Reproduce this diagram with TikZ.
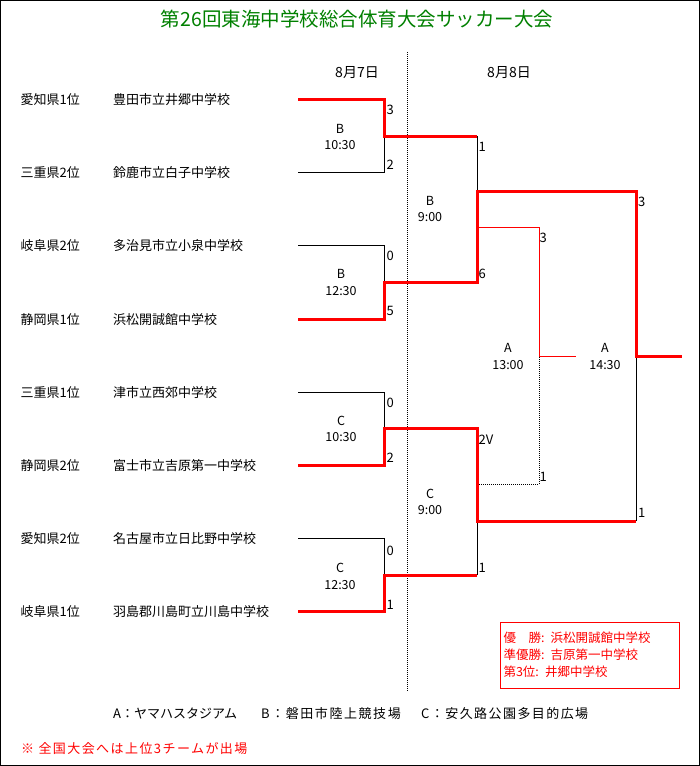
\documentclass[tikz,border=0pt]{standalone}
\usepackage{fontspec}
\setmainfont{Noto Sans CJK JP}
\usepackage{tikz}
\definecolor{titlegreen}{RGB}{0,128,0}
\tikzstyle{winline}=[
      red,
      line width = 3pt
      ]
\tikzstyle{plainline}=[
      black,
      line width = 1pt
      ]
\tikzstyle{thirdline}=[
      red,
      line width = 1pt
      ]
\tikzstyle{dotline}=[
      black,
      line width = 1pt,
      dash pattern = on 1pt off 1pt
      ]
\tikzstyle{teamtext}=[
      anchor = west,
      inner sep = 0pt,
      font = \fontsize{13}{15}\selectfont
      ]
\tikzstyle{scoretext}=[
      anchor = west,
      inner sep = 0pt,
      font = \fontsize{13}{15}\selectfont
      ]
\tikzstyle{matchtext}=[
      align = center,
      inner sep = 0pt,
      font = \fontsize{12.5}{16.5}\selectfont
      ]

\begin{document}
\begin{tikzpicture}[x=1pt,y=-1pt]
\useasboundingbox (0,0) rectangle (700,766);
\draw[line width=1.2pt] (0.6,0.6) rectangle (699.4,765.4);

\node [inner sep=0pt, text=titlegreen, font=\fontsize{19.5}{20}\selectfont] (title) at (357,19)
  {第26回東海中学校総合体育大会サッカー大会};
\node [matchtext, font=\fontsize{14}{16}\selectfont] (day1) at (357,73) {8月7日};
\node [matchtext, font=\fontsize{14}{16}\selectfont] (day2) at (509,73) {8月8日};
\coordinate (divtop) at (407.5,52);
\coordinate (divbot) at (407.5,691);
\draw [dotline] (divtop) -- (divbot);

\node [teamtext] (pref1) at (20.5,99.5) {愛知県1位};
\node [teamtext] (pref2) at (20.5,172.7) {三重県2位};
\node [teamtext] (pref3) at (20.5,245.9) {岐阜県2位};
\node [teamtext] (pref4) at (20.5,319.1) {静岡県1位};
\node [teamtext] (pref5) at (20.5,392.3) {三重県1位};
\node [teamtext] (pref6) at (20.5,465.5) {静岡県2位};
\node [teamtext] (pref7) at (20.5,538.7) {愛知県2位};
\node [teamtext] (pref8) at (20.5,611.9) {岐阜県1位};
\node [teamtext] (school1) at (113,99.5) {豊田市立井郷中学校};
\node [teamtext] (school2) at (113,172.7) {鈴鹿市立白子中学校};
\node [teamtext] (school3) at (113,245.9) {多治見市立小泉中学校};
\node [teamtext] (school4) at (113,319.1) {浜松開誠館中学校};
\node [teamtext] (school5) at (113,392.3) {津市立西郊中学校};
\node [teamtext] (school6) at (113,465.5) {富士市立吉原第一中学校};
\node [teamtext] (school7) at (113,538.7) {名古屋市立日比野中学校};
\node [teamtext] (school8) at (113,611.9) {羽島郡川島町立川島中学校};

\coordinate (t1) at (298,99.5);
\coordinate (t2) at (298,172.7);
\coordinate (t3) at (298,245.9);
\coordinate (t4) at (298,319.1);
\coordinate (t5) at (298,392.3);
\coordinate (t6) at (298,465.5);
\coordinate (t7) at (298,538.7);
\coordinate (t8) at (298,611.9);
\coordinate (m1) at (384,136.1);
\coordinate (m2) at (384,282.5);
\coordinate (m3) at (384,428.9);
\coordinate (m4) at (384,575.3);
\coordinate (s1) at (477,191);
\coordinate (s2) at (477,521);
\coordinate (l1) at (477,227);
\coordinate (l2) at (477,484);
\coordinate (third) at (539,356);
\coordinate (thirdend) at (576,356);
\coordinate (final) at (636,356);
\coordinate (champ) at (682,356);

\draw [plainline] (t2) -| (m1);
\draw [plainline] (m1 -| s1) -- (s1);
\draw [plainline] (t3) -| (m2);
\draw [plainline] (t5) -| (m3);
\draw [plainline] (t7) -| (m4);
\draw [plainline] (m4 -| s2) -- (s2);
\draw [plainline] (s2 -| final) -- (final);
\draw [dotline] (l2) -| (third);
\draw [thirdline] (l1) -| (third) -- (thirdend);
\draw [winline] (t1) -| (m1) -- (m1 -| s1);
\draw [winline] (t4) -| (m2) -| (s1) -| (final) -- (champ);
\draw [winline] (t6) -| (m3) -| (s2) -- (s2 -| final);
\draw [winline] (t8) -| (m4) -- (m4 -| s2);

\node [scoretext] (m1top) at (386.5,110) {3};
\node [scoretext] (m1bot) at (386.5,165) {2};
\node [scoretext] (m2top) at (386.5,256) {0};
\node [scoretext] (m2bot) at (386.5,311) {5};
\node [scoretext] (m3top) at (386.5,403) {0};
\node [scoretext] (m3bot) at (386.5,458) {2};
\node [scoretext] (m4top) at (386.5,551) {0};
\node [scoretext] (m4bot) at (386.5,605) {1};
\node [scoretext] (s1top) at (478.5,147) {1};
\node [scoretext] (s1bot) at (478.5,274) {6};
\node [scoretext] (s2top) at (478.5,440) {2V};
\node [scoretext] (s2bot) at (478.5,568) {1};
\node [scoretext] (thirdtop) at (539.5,238) {3};
\node [scoretext] (thirdbot) at (539.5,477) {1};
\node [scoretext] (finaltop) at (638,202) {3};
\node [scoretext] (finalbot) at (638,513) {1};

\node [matchtext] (m1info) at (340,137) {B\\10:30};
\node [matchtext] (m2info) at (341,282.5) {B\\12:30};
\node [matchtext] (m3info) at (341,429) {C\\10:30};
\node [matchtext] (m4info) at (340,576.5) {C\\12:30};
\node [matchtext] (s1info) at (430,209) {B\\9:00};
\node [matchtext] (s2info) at (430,502) {C\\9:00};
\node [matchtext] (thirdinfo) at (508,356.5) {A\\13:00};
\node [matchtext] (finalinfo) at (605,356.5) {A\\14:30};

\node [draw=red, line width=1pt, text=red, anchor=north west, align=left,
  inner xsep=3.5pt, inner ysep=0pt, text width=172pt, minimum height=65.5pt,
  font=\fontsize{12.5}{17}\selectfont] (result) at (499.5,622)
  {優　勝: 浜松開誠館中学校\\準優勝: 吉原第一中学校\\第3位: 井郷中学校};

\node [teamtext] (venueA) at (113,713.3) {A：ヤマハスタジアム};
\node [teamtext, font=\fontsize{13}{15}\selectfont\addfontfeature{LetterSpace=12}] (venueB)
  at (261,713.3) {B：磐田市陸上競技場};
\node [teamtext, font=\fontsize{13}{15}\selectfont\addfontfeature{LetterSpace=11}] (venueC)
  at (421,713.3) {C：安久路公園多目的広場};
\node [teamtext, text=red, font=\fontsize{13}{15}\selectfont\addfontfeature{LetterSpace=11}] (note)
  at (21,748.5) {※ 全国大会へは上位3チームが出場};
\end{tikzpicture}
\end{document}
